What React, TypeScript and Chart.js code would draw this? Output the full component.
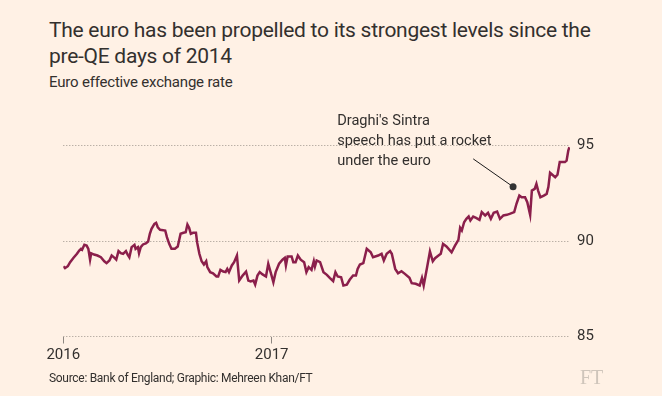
import React, { useEffect, useRef } from "react";
import { Chart, registerables } from "chart.js";

Chart.register(...registerables);

// Days since 1 Jan 2016
const days = [
  0, 3, 8, 12, 18, 24, 28, 31, 33, 37, 41, 44, 47, 49, 54, 60, 66, 72, 76, 81,
  85, 90, 93, 97, 101, 105, 110, 113, 116, 120, 125, 127, 131, 133, 136, 140, 145, 149, 152, 155,
  160, 163, 166, 170, 179, 182, 186, 190, 196, 201, 206, 211, 215, 218, 221, 224, 228, 233, 235, 239,
  243, 247, 251, 253, 258, 263, 269, 272, 276, 281, 285, 288, 291, 296, 300, 305, 309, 315, 321, 325,
  329, 334, 337, 341, 345, 350, 356, 360, 365, 369, 373, 379, 385, 389, 391, 394, 401, 404, 408, 412,
  417, 423, 427, 431, 436, 440, 442, 445, 451, 457, 463, 468, 474, 478, 482, 488, 492, 498, 503, 509,
  514, 517, 521, 527, 533, 540, 544, 553, 559, 563, 568, 574, 577, 583, 588, 594, 600, 608, 612, 619,
  626, 630, 633, 639, 644, 649, 653, 659, 663, 667, 673, 682, 688, 694, 697, 700, 704, 708, 712, 715,
  720, 725, 731, 735, 741, 746, 751, 756, 762, 767, 773, 779, 784, 792, 796, 801, 805, 811, 815, 820,
  823, 828, 831, 834, 838, 844, 849, 852, 855, 859, 864, 868, 872, 881, 884, 887, 889,
];

const euroIndex = [
  88.68, 88.58, 88.68, 88.89, 89.12, 89.33, 89.5, 89.59, 89.54, 89.8, 89.76, 89.59, 89.02, 89.36, 89.29, 89.24, 89.15, 88.94, 88.84, 88.98,
  89.24, 89.12, 89.03, 89.47, 89.36, 89.33, 89.47, 89.29, 89.15, 89.68, 89.8, 89.59, 89.68, 89.36, 89.68, 89.82, 89.88, 89.97, 90.38, 90.64,
  90.9, 90.95, 90.72, 90.59, 90.55, 90.2, 89.85, 89.59, 89.59, 89.71, 90.38, 90.43, 90.46, 90.86, 90.69, 90.38, 90.43, 90.43, 89.94, 89.33,
  88.94, 88.77, 88.94, 88.63, 88.37, 88.31, 88.14, 88.14, 88.49, 88.4, 88.37, 88.54, 88.37, 88.72, 88.89, 89.24, 87.93, 88.19, 88.4, 87.93,
  87.88, 87.93, 87.72, 88.19, 88.37, 88.25, 88.14, 88.81, 88.28, 87.84, 88.37, 88.81, 89.02, 89.12, 88.72, 89.19, 89.19, 88.89, 88.89, 89.24,
  89.02, 88.89, 88.37, 88.63, 88.49, 88.94, 88.66, 88.98, 88.89, 88.37, 88.23, 88.07, 87.9, 88.37, 88.14, 88.1, 87.67, 87.71, 87.97, 88.19,
  88.19, 88.54, 88.77, 88.84, 89.59, 89.41, 89.15, 89.24, 89.33, 88.98, 89.33, 89.47, 89.33, 88.54, 88.31, 88.42, 88.28, 88.07, 87.79, 87.76,
  87.67, 88.07, 87.67, 88.63, 89.45, 88.94, 89.1, 89.24, 89.33, 89.85, 89.71, 89.41, 89.76, 90.06, 90.69, 90.55, 90.98, 91.16, 91.28, 91.07,
  91.28, 91.21, 91.11, 91.51, 91.34, 91.48, 91.16, 91.48, 91.54, 91.16, 91.34, 91.37, 91.42, 91.51, 91.95, 92.38, 92.29, 92.29, 92.03, 91.37,
  92.64, 92.73, 92.99, 92.64, 92.29, 92.38, 92.47, 92.82, 93.57, 93.47, 93.34, 93.47, 94.13, 94.13, 94.21, 94.74, 94.91,
];

const xTickDays = [0, 366];
const xTickLabels = ["2016", "2017"];
const yTicks = [85, 90, 95];

const calloutText = ["Draghi's Sintra", "speech has put a rocket", "under the euro"];
const calloutTextAt = [481, 96.05]; // day, index value (first baseline)
const calloutLineFrom = [720, 94.3];
const calloutDotAt = [790, 92.84];

const BG = "#fff1e5";
const INK = "#33302e";
const FONT = "Roboto, 'Noto Sans', sans-serif";

const calloutPlugin = {
  id: "callout",
  afterDatasetsDraw(chart: any) {
    const { ctx, scales } = chart;
    const x = scales.x;
    const y = scales.y;
    ctx.save();
    ctx.font = `14.6px ${FONT}`;
    ctx.fillStyle = INK;
    ctx.textAlign = "left";
    ctx.textBaseline = "alphabetic";
    const tx = x.getPixelForValue(calloutTextAt[0]);
    const ty = y.getPixelForValue(calloutTextAt[1]);
    calloutText.forEach((t, i) => ctx.fillText(t, tx, ty + i * 20));
    const lx = x.getPixelForValue(calloutLineFrom[0]);
    const ly = y.getPixelForValue(calloutLineFrom[1]);
    const dx = x.getPixelForValue(calloutDotAt[0]);
    const dy = y.getPixelForValue(calloutDotAt[1]);
    ctx.strokeStyle = "#1a1a1a";
    ctx.lineWidth = 1;
    ctx.beginPath();
    ctx.moveTo(lx, ly);
    ctx.lineTo(dx, dy);
    ctx.stroke();
    ctx.beginPath();
    ctx.arc(dx, dy, 3.5, 0, Math.PI * 2);
    ctx.fillStyle = "#333";
    ctx.fill();
    ctx.restore();
  },
};

export default function App() {
  const ref = useRef<HTMLCanvasElement | null>(null);
  useEffect(() => {
    if (!ref.current) return;
    const chart = new Chart(ref.current, {
      type: "line",
      data: {
        datasets: [
          {
            data: days.map((d, i) => ({ x: d, y: euroIndex[i] })),
            borderColor: "#8b1f4b",
            borderWidth: 2.5,
            pointRadius: 0,
            tension: 0,
            fill: false,
          },
        ],
      },
      options: {
        animation: false,
        responsive: false,
        maintainAspectRatio: false,
        events: [],
        layout: { padding: { left: 63.3, top: 107.3, right: 0, bottom: 0 } },
        plugins: { legend: { display: false }, tooltip: { enabled: false }, title: { display: false } },
        scales: {
          x: {
            type: "linear",
            min: 0,
            max: 890,
            border: { display: false },
            grid: {
              drawOnChartArea: false,
              drawTicks: true,
              tickLength: 7,
              color: "#8f8882",
              lineWidth: 1,
            },
            afterBuildTicks: (s: any) => {
              s.ticks = xTickDays.map((v) => ({ value: v }));
            },
            afterFit: (s: any) => {
              s.height = 396 - 336.5;
            },
            ticks: {
              padding: 3,
              color: INK,
              font: { family: FONT, size: 15 },
              maxRotation: 0,
              callback: (v: any) => {
                const i = xTickDays.indexOf(Number(v));
                return i >= 0 ? xTickLabels[i] : "";
              },
            },
          },
          y: {
            position: "right",
            min: 85,
            max: 97,
            border: { display: false, dash: [1, 2] },
            grid: {
              drawTicks: false,
              color: "#9e958d",
              lineWidth: 1,
            },
            afterBuildTicks: (s: any) => {
              s.ticks = yTicks.map((v) => ({ value: v }));
            },
            afterFit: (s: any) => {
              s.width = 92;
            },
            ticks: {
              padding: 7,
              color: INK,
              font: { family: FONT, size: 15 },
            },
          },
        },
      },
      plugins: [calloutPlugin],
    } as any);
    return () => chart.destroy();
  }, []);

  return (
    <div style={{ position: "fixed", left: 0, top: 0, width: 662, height: 396, background: BG, overflow: "hidden", fontFamily: FONT, color: INK }}>
      <div style={{ position: "absolute", left: 49, top: 17, fontSize: 21, lineHeight: "26px", letterSpacing: "-0.27px", width: 610, whiteSpace: "nowrap" }}>
        The euro has been propelled to its strongest levels since the
        <br />
        pre-QE days of 2014
      </div>
      <div style={{ position: "absolute", left: 49, top: 73, fontSize: 15, lineHeight: "18px", letterSpacing: "-0.2px", whiteSpace: "nowrap" }}>
        Euro effective exchange rate
      </div>
      <canvas ref={ref} width={662} height={396} style={{ position: "absolute", left: 0, top: 0, width: 662, height: 396 }} />
      <div style={{ position: "absolute", left: 49, top: 370, fontSize: 12, lineHeight: "16px", letterSpacing: "-0.3px", color: INK, whiteSpace: "nowrap" }}>
        Source: Bank of England; Graphic: Mehreen Khan/FT
      </div>
      <div style={{ position: "absolute", left: 580, top: 366, fontSize: 20, lineHeight: "22px", color: "#cfc5bb", fontFamily: "'Liberation Serif', 'DejaVu Serif', serif" }}>
        FT
      </div>
    </div>
  );
}
